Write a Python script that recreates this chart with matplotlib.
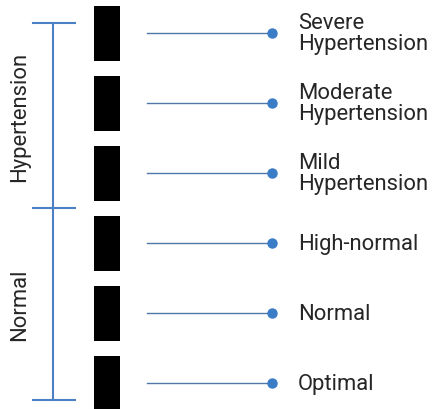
import numpy as np
import matplotlib.pyplot as plt

plt.rcParams['font.family'] = ['Roboto', 'DejaVu Sans']

categories = ["Severe\nHypertension", "Moderate\nHypertension", "Mild\nHypertension",
              "High-normal", "Normal", "Optimal"]
groups = ["Hypertension", "Normal"]
group_rows = [(0, 2), (3, 5)]

line_col = '#4f78a8'
dot_col = '#3a7cc6'
brk_col = '#4a80c4'

fig = plt.figure(figsize=(4.32, 4.10), dpi=100)
ax = fig.add_axes([0, 0, 1, 1])
ax.set_xlim(0, 432)
ax.set_ylim(5.371, -0.486)
ax.axis('off')

y = np.arange(len(categories))

# black blocks
ax.barh(y, 26, left=94, height=0.786, color='black')

# leader lines with dots
for yi, lab in zip(y, categories):
    ax.plot([147, 272], [yi, yi], color=line_col, lw=1.0)
    ax.plot(272, yi, 'o', color=dot_col, ms=6.5, mec=dot_col)
    ax.text(298, yi, lab, ha='left', va='center', fontsize=15.8,
            color='#262626', linespacing=1.0)

# bracket
edges = [-0.143, 2.5, 5.243]
ax.plot([53, 53], [edges[0], edges[-1]], color=brk_col, lw=1.5)
for e in edges:
    ax.plot([33, 75], [e, e], color=brk_col, lw=1.5)

for g, (a, b), lo, hi in zip(groups, group_rows, edges[:-1], edges[1:]):
    ax.text(20, (lo + hi) / 2, g, rotation=90, ha='center', va='center',
            fontsize=15.8, color='#262626')

fig.savefig('out.png', dpi=100)
